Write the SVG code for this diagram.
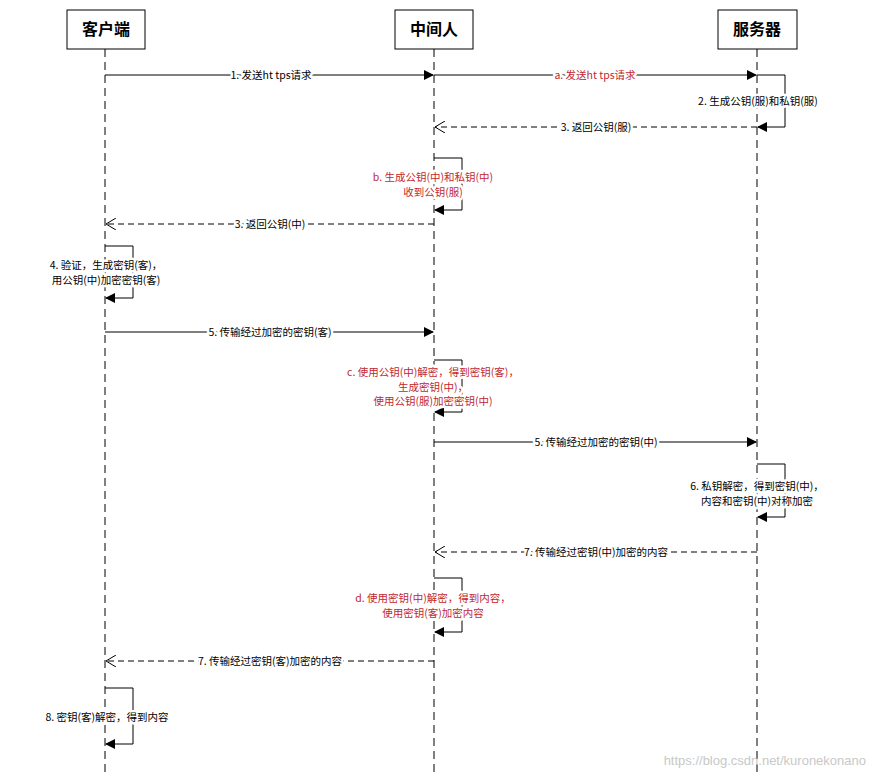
<svg xmlns="http://www.w3.org/2000/svg" width="872" height="776" viewBox="0 0 872 776">
<style>
.box{fill:#fff;stroke:#000;stroke-width:1}
.life{stroke:#000;stroke-width:1;stroke-dasharray:8,5;fill:none}
.ttl{font-family:"Noto Sans CJK SC",sans-serif;font-size:16px;font-weight:bold;text-anchor:middle;fill:#000}
.m{stroke:#000;stroke-width:1;fill:none}
.d{stroke-dasharray:6,4}
.l{font-family:"Noto Sans CJK SC",sans-serif;font-size:10.5px;text-anchor:middle;fill:#000;stroke:#fff;stroke-width:5px;stroke-linejoin:round;paint-order:stroke}
.r{fill:#c0282e}
</style>
<defs>
<marker id="f" markerWidth="10" markerHeight="10" refX="9" refY="5" orient="auto" markerUnits="userSpaceOnUse"><path d="M0,0 L10,5 L0,10 z" fill="#000"/></marker>
<marker id="o" markerWidth="10" markerHeight="12" refX="10" refY="6" orient="auto" markerUnits="userSpaceOnUse"><path d="M0,0 L10,6 L0,12" fill="none" stroke="#000"/></marker>
</defs>
<rect width="872" height="776" fill="#fff"/>
<g id="client"><rect class="box" x="67" y="10" width="78" height="39"/><text class="ttl" x="106" y="35">客户端</text><line class="life" x1="105" y1="49" x2="105" y2="776"/></g>
<g id="mitm"><rect class="box" x="395" y="10" width="78" height="39"/><text class="ttl" x="434" y="35">中间人</text><line class="life" x1="434" y1="49" x2="434" y2="776"/></g>
<g id="server"><rect class="box" x="718" y="10" width="79" height="39"/><text class="ttl" x="757" y="35">服务器</text><line class="life" x1="757" y1="49" x2="757" y2="776"/></g>
<g id="connectors">
<path class="m" d="M105,75 H433" marker-end="url(#f)"/>
<path class="m" d="M434,75 H756" marker-end="url(#f)"/>
<path class="m" d="M757,75 H785 V127 H758" marker-end="url(#f)"/>
<path class="m d" d="M757,127 H435" marker-end="url(#o)"/>
<path class="m" d="M434,158 H462 V210 H435" marker-end="url(#f)"/>
<path class="m d" d="M434,224 H106" marker-end="url(#o)"/>
<path class="m" d="M105,246 H133 V298 H106" marker-end="url(#f)"/>
<path class="m" d="M105,332 H433" marker-end="url(#f)"/>
<path class="m" d="M434,360 H462 V412 H435" marker-end="url(#f)"/>
<path class="m" d="M434,442 H756" marker-end="url(#f)"/>
<path class="m" d="M757,464 H785 V517 H758" marker-end="url(#f)"/>
<path class="m d" d="M757,552 H435" marker-end="url(#o)"/>
<path class="m" d="M434,578 H462 V632 H435" marker-end="url(#f)"/>
<path class="m d" d="M434,661 H106" marker-end="url(#o)"/>
<path class="m" d="M105,688 H133 V744 H106" marker-end="url(#f)"/>
</g>
<g id="labels">
<text class="l" x="271" y="79">1. 发送ht tps请求</text>
<text class="l r" x="595" y="79">a. 发送ht tps请求</text>
<text class="l" x="758" y="105">2. 生成公钥(服)和私钥(服)</text>
<text class="l" x="596" y="131">3. 返回公钥(服)</text>
<text class="l r" x="433" y="181">b. 生成公钥(中)和私钥(中)</text>
<text class="l r" x="433" y="196">收到公钥(服)</text>
<text class="l" x="270" y="228">3. 返回公钥(中)</text>
<text class="l" x="106" y="269">4. 验证，生成密钥(客)，</text>
<text class="l" x="106" y="284">用公钥(中)加密密钥(客)</text>
<text class="l" x="270" y="336">5. 传输经过加密的密钥(客)</text>
<text class="l r" x="433" y="376">c. 使用公钥(中)解密，得到密钥(客)，</text>
<text class="l r" x="433" y="391">生成密钥(中)，</text>
<text class="l r" x="433" y="405">使用公钥(服)加密密钥(中)</text>
<text class="l" x="596" y="446">5. 传输经过加密的密钥(中)</text>
<text class="l" x="757" y="490">6. 私钥解密，得到密钥(中)，</text>
<text class="l" x="757" y="505">内容和密钥(中)对称加密</text>
<text class="l" x="596" y="556">7. 传输经过密钥(中)加密的内容</text>
<text class="l r" x="433" y="602">d. 使用密钥(中)解密，得到内容，</text>
<text class="l r" x="433" y="617">使用密钥(客)加密内容</text>
<text class="l" x="270" y="665">7. 传输经过密钥(客)加密的内容</text>
<text class="l" x="107" y="721">8. 密钥(客)解密，得到内容</text>
<text x="866" y="765" font-family="Liberation Sans,sans-serif" font-size="13" fill="#c8c8c8" text-anchor="end">https://blog.csdn.net/kuronekonano</text>
</g>
</svg>
